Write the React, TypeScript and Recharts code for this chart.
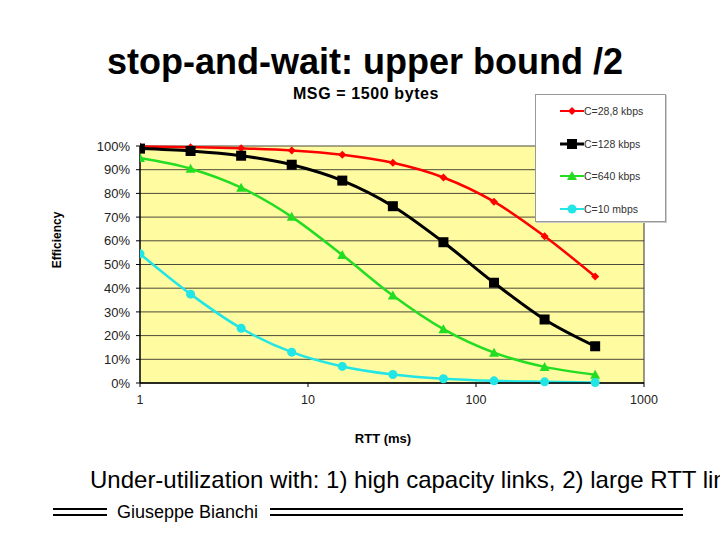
import {
  LineChart,
  Line,
  XAxis,
  YAxis,
  CartesianGrid,
  Legend,
  ReferenceLine,
} from 'recharts'

// RTT sample points (ms) and efficiency (%) per link capacity
const rttMs = [1, 2, 4, 8, 16, 32, 64, 128, 256, 512]
const eff288k = [99.8, 99.5, 99.0, 98.1, 96.3, 92.9, 86.7, 76.5, 61.9, 44.9]
const eff128k = [98.9, 97.9, 95.9, 92.1, 85.4, 74.6, 59.4, 42.3, 26.8, 15.5]
const eff640k = [94.9, 90.4, 82.4, 70.1, 54.0, 36.9, 22.7, 12.8, 6.8, 3.5]
const eff10m = [54.5, 37.5, 23.1, 13.0, 7.0, 3.6, 1.8, 0.9, 0.5, 0.2]

const xTicks = [1, 10, 100, 1000]
const yTicks = [0, 10, 20, 30, 40, 50, 60, 70, 80, 90, 100]

const series = [
  { key: 'c288', name: 'C=28,8 kbps', color: '#FF0000', shape: 'diamond' },
  { key: 'c128', name: 'C=128 kbps', color: '#000000', shape: 'square' },
  { key: 'c640', name: 'C=640 kbps', color: '#22DD22', shape: 'triangle' },
  { key: 'c10m', name: 'C=10 mbps', color: '#22E5E5', shape: 'circle' },
]

const data = rttMs.map((rtt, i) => ({
  rtt,
  c288: eff288k[i],
  c128: eff128k[i],
  c640: eff640k[i],
  c10m: eff10m[i],
}))

const FONT = 'Arial, "Liberation Sans", sans-serif'

function Marker({ shape, color, cx, cy }: { shape: string; color: string; cx: number; cy: number }) {
  if (shape === 'diamond') {
    const r = 4
    return <polygon points={`${cx},${cy - r} ${cx + r},${cy} ${cx},${cy + r} ${cx - r},${cy}`} fill={color} />
  }
  if (shape === 'square') {
    return <rect x={cx - 5} y={cy - 5} width={10} height={10} fill={color} />
  }
  if (shape === 'triangle') {
    return <polygon points={`${cx},${cy - 5} ${cx + 5},${cy + 4} ${cx - 5},${cy + 4}`} fill={color} />
  }
  return <circle cx={cx} cy={cy} r={4.5} fill={color} />
}

function LegendBox() {
  return (
    <div
      style={{
        width: 131,
        height: 128,
        background: '#fff',
        border: '1px solid #999',
        boxShadow: '1px 1px 0 #ccc',
        fontFamily: FONT,
        fontSize: 10.5,
        color: '#333',
        boxSizing: 'border-box',
        paddingTop: 0,
      }}
    >
      {series.map((s) => (
        <div key={s.key} style={{ display: 'flex', alignItems: 'center', height: 32.5 }}>
          <svg width={48} height={12}>
            <line x1={24} y1={6} x2={48} y2={6} stroke={s.color} strokeWidth={s.shape === 'square' ? 3 : 2} />
            <Marker shape={s.shape} color={s.color} cx={36} cy={6} />
          </svg>
          <span>{s.name}</span>
        </div>
      ))}
    </div>
  )
}

export default function App() {
  return (
    <div
      style={{
        position: 'absolute',
        left: 0,
        top: 0,
        width: 720,
        height: 540,
        overflow: 'hidden',
        background: '#fff',
        fontFamily: FONT,
      }}
    >
      <div
        style={{
          position: 'absolute',
          left: 0,
          width: 730,
          top: 41,
          textAlign: 'center',
          fontSize: 36,
          fontWeight: 'bold',
          color: '#000',
        }}
      >
        stop-and-wait: upper bound /2
      </div>
      <div
        style={{
          position: 'absolute',
          left: 0,
          width: 732,
          top: 85,
          textAlign: 'center',
          fontSize: 16,
          letterSpacing: 0.6,
          fontWeight: 'bold',
          color: '#000',
        }}
      >
        MSG = 1500 bytes
      </div>

      <LineChart
        width={720}
        height={540}
        data={data}
        margin={{ top: 146, right: 76, bottom: 127, left: 80 }}
        style={{ position: 'absolute', left: 0, top: 0 }}
      >
        <CartesianGrid vertical={false} stroke="#4a4a3a" fill="#FFFBA0" fillOpacity={1} />
        <XAxis
          dataKey="rtt"
          type="number"
          scale="log"
          domain={[1, 1000]}
          ticks={xTicks}
          allowDataOverflow
          height={30}
          axisLine={{ stroke: '#000', strokeWidth: 1.5 }}
          tickLine={{ stroke: '#000' }}
          tickSize={4}
          tickMargin={8}
          tick={{ fontSize: 12.5, fill: '#222', fontFamily: FONT }}
        />
        <YAxis
          type="number"
          domain={[0, 100]}
          ticks={yTicks}
          width={60}
          tickFormatter={(v: number) => `${v}%`}
          axisLine={{ stroke: '#000', strokeWidth: 1.5 }}
          tickLine={{ stroke: '#000' }}
          tickSize={4}
          tickMargin={6}
          tick={{ fontSize: 13, fill: '#222', fontFamily: FONT }}
        />
        <ReferenceLine x={1000} stroke="#333" strokeWidth={1} />
        {series.map((s) => (
          <Line
            key={s.key}
            dataKey={s.key}
            name={s.name}
            type="monotone"
            stroke={s.color}
            strokeWidth={s.shape === 'square' ? 3 : 2.5}
            isAnimationActive={false}
            dot={(p: any) => (
              <Marker key={`${s.key}-${p.index}`} shape={s.shape} color={s.color} cx={p.cx} cy={p.cy} />
            )}
            activeDot={false}
          />
        ))}
        <Legend
          layout="vertical"
          align="center"
          verticalAlign="middle"
          content={() => <LegendBox />}
          wrapperStyle={{ position: 'absolute', left: 535, top: 94, width: 131, height: 128 }}
        />
      </LineChart>

      <div
        style={{
          position: 'absolute',
          left: 57,
          top: 240,
          fontSize: 12,
          fontWeight: 'bold',
          transform: 'translate(-50%, -50%) rotate(-90deg)',
          whiteSpace: 'nowrap',
        }}
      >
        Efficiency
      </div>
      <div
        style={{
          position: 'absolute',
          left: 383,
          top: 438,
          fontSize: 13,
          fontWeight: 'bold',
          transform: 'translate(-50%, -50%)',
          whiteSpace: 'nowrap',
        }}
      >
        RTT (ms)
      </div>

      <div
        style={{
          position: 'absolute',
          left: 90,
          top: 466,
          fontSize: 24,
          whiteSpace: 'nowrap',
          color: '#000',
        }}
      >
        Under-utilization with: 1) high capacity links, 2) large RTT links
      </div>

      <div style={{ position: 'absolute', left: 53, top: 508, width: 54, height: 2, background: '#000' }} />
      <div style={{ position: 'absolute', left: 53, top: 514, width: 54, height: 2, background: '#000' }} />
      <div
        style={{
          position: 'absolute',
          left: 117,
          top: 502,
          fontSize: 18,
          whiteSpace: 'nowrap',
          color: '#000',
        }}
      >
        Giuseppe Bianchi
      </div>
      <div style={{ position: 'absolute', left: 270, top: 508, width: 413, height: 2, background: '#000' }} />
      <div style={{ position: 'absolute', left: 270, top: 514, width: 413, height: 2, background: '#000' }} />
    </div>
  )
}
